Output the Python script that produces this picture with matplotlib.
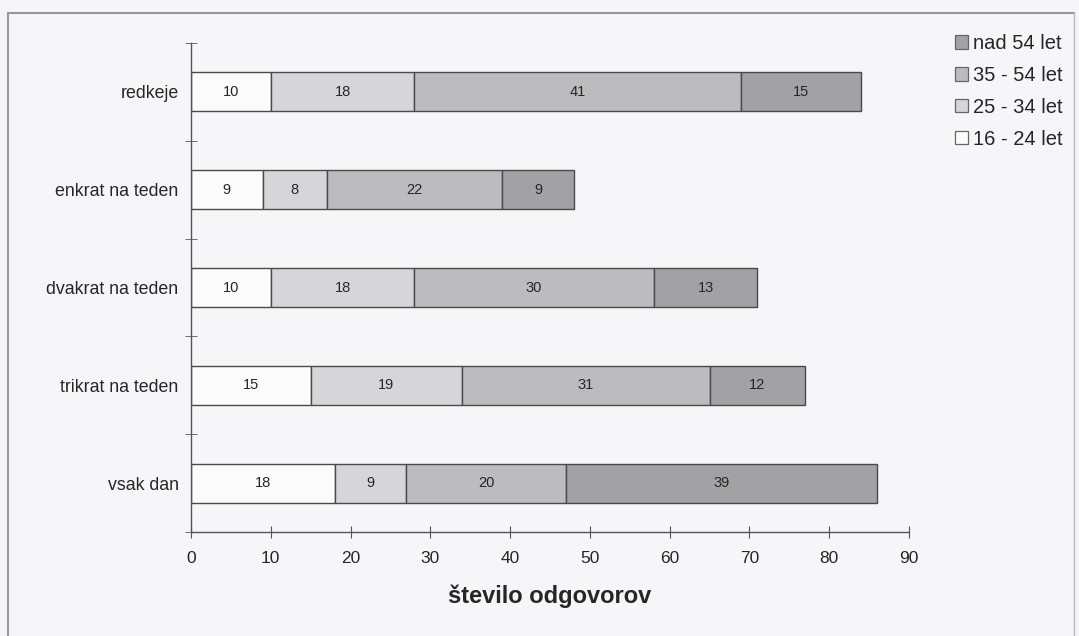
import matplotlib
matplotlib.use("Agg")
import matplotlib.pyplot as plt
from matplotlib.patches import Patch
import numpy as np

categories = ["redkeje", "enkrat na teden", "dvakrat na teden", "trikrat na teden", "vsak dan"]
series_names = ["16 - 24 let", "25 - 34 let", "35 - 54 let", "nad 54 let"]
v_16_24 = [10, 9, 10, 15, 18]
v_25_34 = [18, 8, 18, 19, 9]
v_35_54 = [41, 22, 30, 31, 20]
v_nad54 = [15, 9, 13, 12, 39]
colors = ["#fbfbfb", "#d6d6d8", "#bcbcbe", "#a2a2a4"]
x_ticks = [0, 10, 20, 30, 40, 50, 60, 70, 80, 90]

plt.rcParams['font.family'] = ['Liberation Sans', 'DejaVu Sans']
bg = "#f6f6f8"
txt = "#262626"
fig = plt.figure(figsize=(10.79, 6.36), dpi=100, facecolor=bg)
ax = fig.add_axes([191/1079, 104/636, 718/1079, 489/636])
ax.set_facecolor(bg)

# frame around figure
fig.add_artist(plt.Line2D([8/1079, 8/1079], [0, 1 - 13/636], transform=fig.transFigure, color="#999999", lw=1.5))
fig.add_artist(plt.Line2D([8/1079, 1074/1079], [1 - 13/636, 1 - 13/636], transform=fig.transFigure, color="#999999", lw=1.5))
fig.add_artist(plt.Line2D([1074/1079, 1074/1079], [0, 1 - 13/636], transform=fig.transFigure, color="#bbbbbb", lw=1.0))

series = [v_16_24, v_25_34, v_35_54, v_nad54]
ypos = np.arange(len(categories))
left = np.zeros(len(categories))
for vals, col, name in zip(series, colors, series_names):
    vals = np.array(vals, dtype=float)
    bars = ax.barh(ypos, vals, left=left, height=0.4, color=col, edgecolor="#4a4a4a", linewidth=1.0, label=name)
    for b, v, l in zip(bars, vals, left):
        ax.text(l + v / 2, b.get_y() + b.get_height() / 2, f"{int(v)}", ha="center", va="center", fontsize=10.5, color=txt)
    left += vals

ax.set_xlim(0, 90)
ax.set_ylim(4.5, -0.5)
ax.set_xticks(x_ticks)
ax.set_xticklabels([str(t) for t in x_ticks], fontsize=12.5, color=txt)
ax.set_yticks(ypos)
ax.set_yticklabels(categories, fontsize=12.8, color=txt)
ax.set_yticks(np.arange(-0.5, 5.0, 1.0), minor=True)
ax.tick_params(axis="y", which="major", length=0, pad=9)
ax.tick_params(axis="y", which="minor", length=8, direction="inout", color="#555555")
ax.tick_params(axis="x", which="major", length=8, direction="inout", color="#555555", pad=10)
for s in ["top", "right"]:
    ax.spines[s].set_visible(False)
for s in ["left", "bottom"]:
    ax.spines[s].set_color("#555555")
    ax.spines[s].set_linewidth(1.0)
ax.set_xlabel("število odgovorov", fontsize=17, fontweight="bold", color=txt, labelpad=13)

handles = [Patch(facecolor=c, edgecolor="#666666", linewidth=0.9) for c in colors]
leg = fig.legend(handles[::-1], series_names[::-1], loc="upper left", bbox_to_anchor=(947/1079, 1 - 26/636),
                 frameon=False, fontsize=14.5, handlelength=0.65, handleheight=0.65, handletextpad=0.25,
                 labelspacing=0.64, borderaxespad=0)
for t in leg.get_texts():
    t.set_color(txt)

fig.savefig("out.png", dpi=100, facecolor=bg)
